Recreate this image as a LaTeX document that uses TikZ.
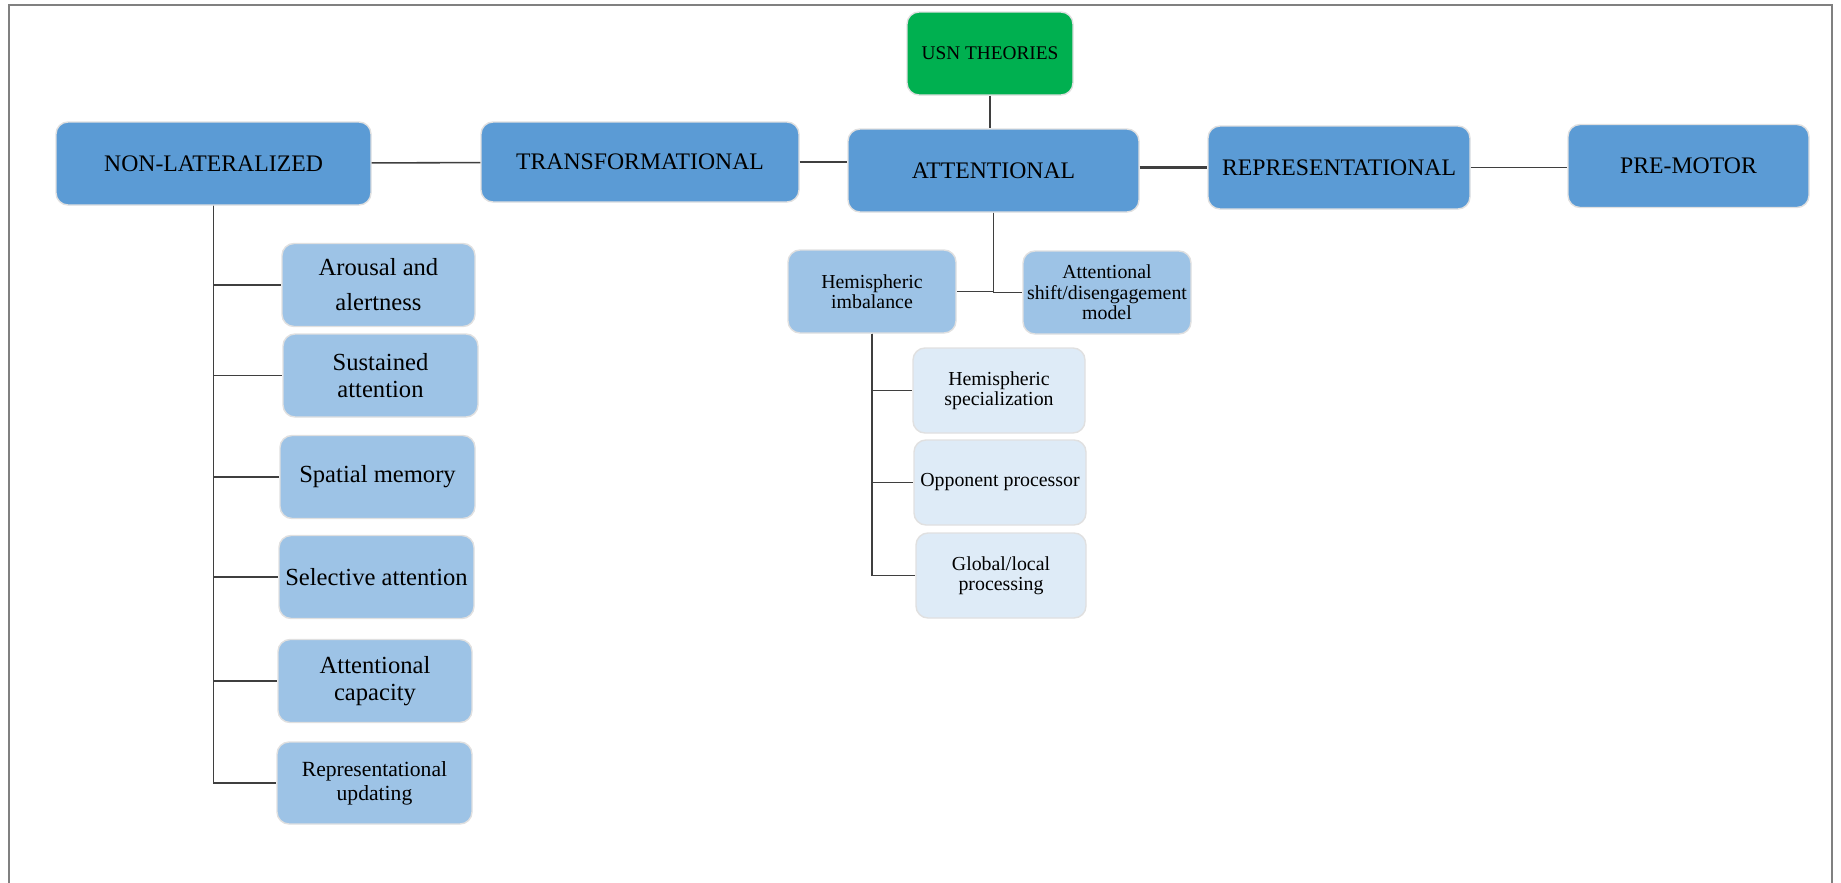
\documentclass[tikz,border=0pt]{standalone}
\usepackage{fontspec}
\setmainfont{Liberation Serif}
\usepackage{tikz}

\definecolor{mainblue}{HTML}{5B9BD5}
\definecolor{subblue}{HTML}{9DC3E6}
\definecolor{leafblue}{HTML}{DEEBF7}
\definecolor{usngreen}{HTML}{00B050}
\definecolor{linegray}{HTML}{3F3F3F}

\begin{document}
\begin{tikzpicture}[box_node/.style={rounded corners=0.24cm, draw=black!12, line width=0.8pt, align=center, minimum height=1.66cm, inner sep=2pt},
	main_node/.style={box_node, fill=mainblue, font=\fontsize{13.5}{16}\selectfont},
	sub_node/.style={box_node, fill=subblue, font=\fontsize{14}{15}\selectfont},
	mid_node/.style={box_node, fill=subblue, font=\fontsize{11.3}{11.6}\selectfont},
	leaf_node/.style={box_node, fill=leafblue, font=\fontsize{11.3}{11.6}\selectfont},
	conn/.style={draw=linegray, line width=0.9pt},
	thick_conn/.style={draw=linegray, line width=1.7pt}]
	\useasboundingbox (0,0) rectangle (36.82,-17.66);
	\draw[gray, line width=0.9pt] (0.18,-17.66) -- (0.18,-0.10) -- (36.64,-0.10) -- (36.64,-17.66);

	\node[box_node, fill=usngreen, minimum width=3.32cm, font=\fontsize{11}{13}\selectfont] (usn) at (19.80, -1.07) {USN THEORIES};

	\node[main_node, minimum width=6.30cm] (nl) at (4.27, -3.27) {NON-LATERALIZED};
	\node[main_node, minimum width=6.36cm, minimum height=1.60cm] (tr) at (12.80, -3.24) {TRANSFORMATIONAL};
	\node[main_node, minimum width=5.82cm] (att) at (19.87, -3.41) {ATTENTIONAL};
	\node[main_node, minimum width=5.24cm] (rep) at (26.78, -3.35) {REPRESENTATIONAL};
	\node[main_node, minimum width=4.82cm] (pre) at (33.77, -3.32) {PRE-MOTOR};

	\node[sub_node, minimum width=3.86cm, font=\fontsize{14}{20}\selectfont] (arousal) at (7.57, -5.70) {Arousal and\\alertness};
	\node[sub_node, minimum width=3.90cm] (sustained) at (7.61, -7.51) {Sustained\\attention};
	\node[sub_node, minimum width=3.90cm] (spatial) at (7.55, -9.54) {Spatial memory};
	\node[sub_node, minimum width=3.90cm] (selective) at (7.53, -11.54) {Selective attention};
	\node[sub_node, minimum width=3.88cm] (capacity) at (7.50, -13.62) {Attentional\\capacity};
	\node[sub_node, minimum width=3.90cm, minimum height=1.64cm, font=\fontsize{12.3}{13.5}\selectfont] (updating) at (7.49, -15.66) {Representational\\updating};

	\node[mid_node, minimum width=3.36cm] (hemi) at (17.44, -5.83) {Hemispheric\\imbalance};
	\node[mid_node, minimum width=3.36cm] (shift) at (22.14, -5.85) {Attentional\\shift/disengagement\\model};

	\node[leaf_node, minimum width=3.44cm, minimum height=1.70cm] (special) at (19.98, -7.81) {Hemispheric\\specialization};
	\node[leaf_node, minimum width=3.44cm, minimum height=1.70cm] (opponent) at (20.00, -9.65) {Opponent processor};
	\node[leaf_node, minimum width=3.40cm, minimum height=1.70cm] (global) at (20.02, -11.51) {Global/local\\processing};

\draw[conn] (usn) -- (usn |- att.north);
\draw[conn] (nl) -- (tr);
\draw[thick_conn] (tr) -- (tr -| att.west);
\draw[thick_conn] (rep -| att.east) -- (rep);
\draw[conn] (rep) -- (rep -| pre.west);
\draw[conn] (nl) |- (arousal);
\draw[conn] (nl) |- (sustained);
\draw[conn] (nl) |- (spatial);
\draw[conn] (nl) |- (selective);
\draw[conn] (nl) |- (capacity);
\draw[conn] (nl) |- (updating);
\draw[conn] (att) |- (hemi);
\draw[conn] (att) |- (shift);
\draw[conn] (hemi) |- (special);
\draw[conn] (hemi) |- (opponent);
\draw[conn] (hemi) |- (global);

\end{tikzpicture}
\end{document}
